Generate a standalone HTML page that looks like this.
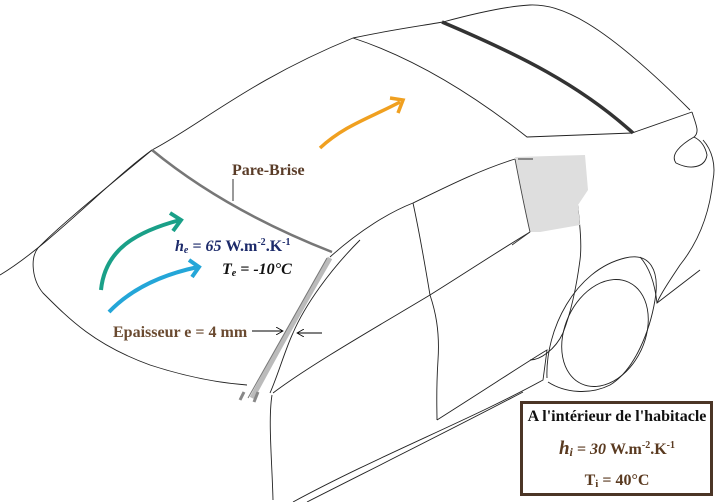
<!DOCTYPE html>
<html><head><meta charset="utf-8"><style>
html,body{margin:0;padding:0;background:#fff;width:718px;height:502px;overflow:hidden}
svg{display:block}
text{font-family:"Liberation Serif",serif;font-weight:bold}
</style></head><body>
<svg width="718" height="502" viewBox="0 0 718 502" xmlns="http://www.w3.org/2000/svg">
<defs>
<marker id="ah" markerWidth="8" markerHeight="8" refX="7" refY="4" orient="auto" markerUnits="userSpaceOnUse"><path d="M0,0 L7,4 L0,8" fill="none" stroke="#000" stroke-width="0.8"/></marker>
</defs>
<g fill="none" stroke="#222" stroke-width="0.9">
<path d="M0,275 C50,245 110,180 152,150 C200,125 250,80 353,38 C390,30 420,26 443,22 C480,12 510,6 530,5 C560,4 600,20 690,110"/>
<path d="M353,38 C420,60 480,100 527,137 L632,133 L692,112"/>
<path d="M692,112 C696,125 700,132 694,137 C680,145 670,155 676,163 C690,170 705,168 707,155 C705,145 700,140 694,137"/>
<path d="M703,140 C712,150 716,165 713,180 C710,210 700,240 680,265 C670,280 660,295 657,303"/>
<path d="M152,150 C110,185 60,225 38,248 C30,258 32,280 43,293 C70,320 95,345 150,365 C190,378 220,383 247,385"/>
<path d="M330,257 C360,230 390,212 413,203 C450,185 480,170 515,159"/>
<path d="M360,240 C330,270 305,305 293,333 C285,350 278,375 270,393"/>
<path d="M413,203 C420,235 425,265 430,295 C435,310 440,330 438,360 C436,390 437,410 437,420"/>
<path d="M530,232 C500,250 470,270 430,295 C380,325 310,365 273,393"/>
<path d="M272,395 C268,420 272,460 273,500"/>
<path d="M577,200 C580,225 582,245 580,260 C576,290 570,315 563,333 C555,350 540,360 530,360"/>
<path d="M293,502 C380,455 470,420 543,380 L547,350 C530,360 500,380 437,420"/>
<path d="M307,502 C380,465 460,425 523,392"/>
<ellipse cx="605" cy="333" rx="40" ry="56" transform="rotate(25 605 333)"/>
<path d="M547,378 C545,330 575,270 625,258 C650,252 660,270 655,300 C650,330 635,370 610,385 C590,395 565,393 548,382"/>
<path d="M640,257 C650,268 655,285 657,303 L700,270"/>
</g>
<path d="M515,157 L585,155 L588,190 L578,205 L580,225 L540,232 L530,232 Z" fill="#dedede"/>
<path d="M515,159 C520,185 525,210 530,232" fill="none" stroke="#444" stroke-width="0.9"/>
<path d="M518,159 L533,159 M530,232 L512,245" stroke="#333" stroke-width="0.9"/>
<path d="M442,22 C520,55 580,85 633,133" fill="none" stroke="#333" stroke-width="3.5"/>
<path d="M152,150 Q225,210 332,252" fill="none" stroke="#777" stroke-width="2.5"/>
<path d="M330,258 C300,310 275,355 252,398" fill="none" stroke="#bbb" stroke-width="5"/>
<path d="M327,258 C298,310 272,355 248,398" fill="none" stroke="#777" stroke-width="1"/>
<path d="M244,392 L240,400 M258,392 L254,402" stroke="#888" stroke-width="3"/>
<path d="M320,148 C345,125 370,118 400,102" fill="none" stroke="#f0a020" stroke-width="3.5"/>
<path d="M390,98 L403,100 L398,113" fill="none" stroke="#f0a020" stroke-width="3.5"/>
<path d="M101,290 C105,250 135,232 180,220" fill="none" stroke="#1aa088" stroke-width="4"/>
<path d="M170,213 L181,220 L173,231" fill="none" stroke="#1aa088" stroke-width="4"/>
<path d="M109,312 C130,290 160,275 198,267" fill="none" stroke="#24a6d8" stroke-width="4"/>
<path d="M189,260 L199,267 L192,277" fill="none" stroke="#24a6d8" stroke-width="4"/>
<text x="232" y="175" font-size="16" fill="#5a3c28">Pare-Brise</text>
<path d="M233,179 L233,201" stroke="#333" stroke-width="1"/>
<text x="175" y="251" font-size="16" fill="#1c2a6a"><tspan font-style="italic">h</tspan><tspan font-size="10" dy="2" font-style="italic">e</tspan><tspan dy="-2" font-style="italic"> = 65 </tspan>W.m<tspan font-size="10" dy="-6">-2</tspan><tspan dy="6">.K</tspan><tspan font-size="10" dy="-6">-1</tspan></text>
<text x="222" y="274" font-size="16" fill="#111" font-style="italic">T<tspan font-size="10" dy="2">e</tspan><tspan dy="-2"> = -10°C</tspan></text>
<text x="113" y="337" font-size="16" fill="#6a4a30">Epaisseur e = 4 mm</text>
<path d="M252,331 L283,331" stroke="#000" stroke-width="0.9" marker-end="url(#ah)"/>
<path d="M322,333 L297,333" stroke="#000" stroke-width="0.9" marker-end="url(#ah)"/>
<rect x="521.5" y="402.5" width="190" height="92" fill="#fff" stroke="#4b3526" stroke-width="3"/>
<text x="617" y="421" font-size="16" fill="#111" text-anchor="middle">A l'intérieur de l'habitacle</text>
<text x="617" y="454" font-size="16" fill="#5a3a20" text-anchor="middle"><tspan font-style="italic" font-size="19">h</tspan><tspan font-style="italic" font-size="12" dy="2">i</tspan><tspan font-style="italic" dy="-2"> = 30 </tspan>W.m<tspan font-size="10" dy="-6">-2</tspan><tspan dy="6">.K</tspan><tspan font-size="10" dy="-6">-1</tspan></text>
<text x="617" y="485" font-size="16" fill="#5a3a20" text-anchor="middle">T<tspan font-size="11" dy="2">i</tspan><tspan dy="-2"> = 40°C</tspan></text>
</svg>
</body></html>
